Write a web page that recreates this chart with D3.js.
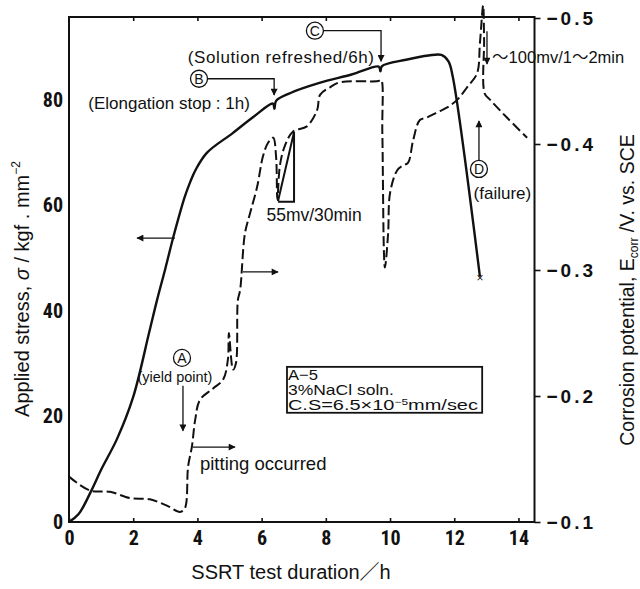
<!DOCTYPE html>
<html>
<head>
<meta charset="utf-8">
<script src="https://cdn.jsdelivr.net/npm/d3@7"></script>
<style>
  body { margin: 0; background: #fff; }
  svg { display: block; }
  .tick text { font-family: "Liberation Sans Narrow", "Roboto Condensed", "DejaVu Sans Condensed", sans-serif; font-weight: bold; font-size: 20px; fill: #111; }
  .right .tick text { font-family: "Liberation Sans", Arial, sans-serif; font-size: 19px; letter-spacing: 3px; }
  .ann { font-family: "Liberation Sans", Arial, "Noto Sans CJK JP", sans-serif; fill: #111; }
</style>
</head>
<body>
<svg id="chart" width="640" height="589"></svg>
<script>
// stress curve (solid, left axis) : hours, kgf/mm2
var stressT = [0, 0.3, 0.7, 1.0, 1.5, 2.0, 2.5, 2.74, 3.0, 3.25, 3.6, 3.78, 3.95, 4.3, 5.1, 5.75, 6.35, 6.4, 6.45, 6.9, 7.8, 8.8, 9.65, 9.7, 9.75, 10.5, 11.2, 11.6, 11.82, 11.95, 12.8];
var stressV = [0, 1.5, 6, 9.9, 15.8, 23.7, 36, 42, 48, 54, 61.5, 64.5, 66.8, 70, 73.7, 76.8, 79.3, 78.3, 79.8, 81.3, 83.2, 84.8, 86.3, 85.4, 86.4, 87.6, 88.4, 88.5, 87.3, 84.5, 46.5];

// corrosion potential (dashed, right axis) : hours, V vs SCE
var potT = [0, 0.65, 1.28, 1.9, 2.52, 3.05, 3.46, 3.61, 3.71, 3.83, 3.93, 4.08, 4.49, 4.8, 4.95, 4.98, 5.11, 5.2, 5.26, 5.33, 5.48, 5.64, 5.86, 6.04, 6.2, 6.36, 6.45, 6.49, 6.57, 6.73, 6.98, 7.41, 7.73, 7.82, 8.13, 8.44, 9.63, 9.72, 9.76, 9.84, 9.94, 10.0, 10.22, 10.4, 10.56, 10.72, 10.93, 11.15, 11.46, 11.78, 12.09, 12.4, 12.71, 12.8, 12.9, 12.93, 12.95, 13.12, 13.64, 14.27];
var potV = [-0.136, -0.125, -0.124, -0.119, -0.118, -0.113, -0.108, -0.111, -0.144, -0.160, -0.181, -0.197, -0.206, -0.213, -0.229, -0.250, -0.221, -0.226, -0.276, -0.284, -0.329, -0.345, -0.366, -0.390, -0.401, -0.405, -0.390, -0.356, -0.383, -0.399, -0.410, -0.414, -0.427, -0.439, -0.445, -0.449, -0.450, -0.451, -0.409, -0.302, -0.329, -0.361, -0.379, -0.383, -0.385, -0.403, -0.419, -0.421, -0.425, -0.429, -0.435, -0.445, -0.456, -0.480, -0.510, -0.483, -0.440, -0.435, -0.421, -0.405];

var xTicks = [0, 2, 4, 6, 8, 10, 12, 14];
var yLeftTicks = [0, 20, 40, 60, 80];
var yRightTicks = [-0.1, -0.2, -0.3, -0.4, -0.5];

var svg = d3.select("#chart");

var x = d3.scaleLinear().domain([0, 14.5]).range([69, 534.5]);
var yL = d3.scaleLinear().domain([0, 95.7]).range([522, 17]);
var yR = d3.scaleLinear().domain([-0.1, -0.5]).range([522, 18]);

// frame
svg.append("rect")
  .attr("x", x(0)).attr("y", yL(95.7))
  .attr("width", x(14.5) - x(0)).attr("height", yL(0) - yL(95.7))
  .attr("fill", "none").attr("stroke", "#111").attr("stroke-width", 2);

// axes
function styleAxis(g) {
  g.select(".domain").remove();
  g.selectAll(".tick line").attr("stroke", "#111").attr("stroke-width", 1.6);
}
svg.append("g").attr("transform", "translate(0,522)")
  .call(d3.axisBottom(x).tickValues(xTicks).tickSizeInner(-4).tickSizeOuter(0).tickPadding(9).tickFormat(d3.format("d")))
  .call(styleAxis);
svg.append("g").attr("transform", "translate(0,17)")
  .call(d3.axisTop(x).tickValues(xTicks.slice(1)).tickSizeInner(-4).tickSizeOuter(0).tickFormat(""))
  .call(styleAxis);
svg.append("g").attr("transform", "translate(69,0)")
  .call(d3.axisLeft(yL).tickValues(yLeftTicks).tickSizeInner(0).tickSizeOuter(0).tickPadding(6).tickFormat(d3.format("d")))
  .call(styleAxis);
svg.append("g").attr("class", "right").attr("transform", "translate(534.5,0)")
  .call(d3.axisRight(yR).tickValues(yRightTicks).tickSizeInner(6).tickSizeOuter(0).tickPadding(6).tickFormat(d3.format(".1f")))
  .call(styleAxis);

// axis titles
svg.append("text").attr("class", "ann")
  .attr("x", 291).attr("y", 579).attr("text-anchor", "middle").attr("font-size", 20)
  .text("SSRT test duration\uFF0Fh");

var lt = svg.append("text").attr("class", "ann")
  .attr("transform", "translate(29,289) rotate(-90)").attr("text-anchor", "middle").attr("font-size", 20);
lt.append("tspan").text("Applied stress, ");
lt.append("tspan").attr("font-style", "italic").text("\u03C3");
lt.append("tspan").text(" / kgf . mm");
lt.append("tspan").attr("font-size", 12).attr("dy", -9).text("\u22122");

var rt = svg.append("text").attr("class", "ann")
  .attr("transform", "translate(634,290) rotate(-90)").attr("text-anchor", "middle").attr("font-size", 19.5);
rt.append("tspan").text("Corrosion potential, E");
rt.append("tspan").attr("font-size", 12).attr("dy", 4).text("corr");
rt.append("tspan").attr("dy", -4).text(" /V. vs. SCE");

// curves
var lineS = d3.line().x(function(d, i) { return x(stressT[i]); }).y(function(d) { return yL(d); })
  .curve(d3.curveCatmullRom.alpha(0.5));
svg.append("path").datum(stressV).attr("d", lineS)
  .attr("fill", "none").attr("stroke", "#111").attr("stroke-width", 2.4);

var lineP = d3.line().x(function(d, i) { return x(potT[i]); }).y(function(d) { return yR(d); })
  .curve(d3.curveCatmullRom.alpha(0.5));
svg.append("path").datum(potV).attr("d", lineP)
  .attr("fill", "none").attr("stroke", "#111").attr("stroke-width", 2)
  .attr("stroke-dasharray", "10,4");

// failure mark
var last = stressV.length - 1;
svg.append("text").attr("class", "ann")
  .attr("x", x(stressT[last])).attr("y", yL(stressV[last]) + 5)
  .attr("text-anchor", "middle").attr("font-size", 12).text("\u00D7");

// arrows
svg.append("defs").append("marker").attr("id", "ah")
  .attr("viewBox", "0 0 10 10").attr("refX", 9).attr("refY", 5)
  .attr("markerWidth", 9).attr("markerHeight", 7).attr("markerUnits", "userSpaceOnUse")
  .attr("orient", "auto")
  .append("path").attr("d", "M0,0 L10,5 L0,10 z").attr("fill", "#111");

function arrow(pts, head) {
  var p = svg.append("path")
    .attr("d", d3.line().x(function(d) { return x(d[0]); }).y(function(d) { return yL(d[1]); })(pts))
    .attr("fill", "none").attr("stroke", "#111").attr("stroke-width", 1.3);
  if (head !== false) p.attr("marker-end", "url(#ah)");
}
function circ(t, s, letter) {
  svg.append("circle").attr("cx", x(t)).attr("cy", yL(s)).attr("r", 8.5)
    .attr("fill", "#fff").attr("stroke", "#111").attr("stroke-width", 1.3);
  svg.append("text").attr("class", "ann").attr("x", x(t)).attr("y", yL(s) + 5)
    .attr("text-anchor", "middle").attr("font-size", 14).text(letter);
}
function label(t, s, txt, size, anchor) {
  return svg.append("text").attr("class", "ann").attr("x", x(t)).attr("y", yL(s))
    .attr("font-size", size).attr("text-anchor", anchor || "start").text(txt);
}

// B : elongation stop
arrow([[4.3, 84.0], [6.39, 84.0], [6.39, 80.9]]);
circ(4.05, 84.0, "B");
label(0.6, 78.3, "(Elongation stop : 1h)", 17);

// C : solution refreshed
arrow([[7.92, 93.1], [9.72, 93.1], [9.72, 87.3]]);
circ(7.66, 93.1, "C");
label(3.7, 87.0, "(Solution refreshed/6h)", 17).attr("letter-spacing", 0.6);

// ~100 mV
arrow([[13.02, 93.0], [13.02, 86.8]]);
label(13.18, 87.0, "\uFF5E100mv/1\uFF5E2min", 16.5);

// D : failure
arrow([[12.77, 68.4], [12.77, 76.0]]);
circ(12.77, 66.9, "D");
label(13.5, 61.3, "(failure)", 17, "middle");

// 55 mV / 30 min
svg.append("path")
  .attr("d", d3.line().x(function(d) { return x(d[0]); }).y(function(d) { return yL(d[1]); })(
    [[6.51, 60.8], [7.01, 73.9], [7.01, 60.7], [6.51, 60.7]]))
  .attr("fill", "none").attr("stroke", "#111").attr("stroke-width", 2);
label(6.15, 57.0, "55mv/30min", 17.5);

// axis pointers
arrow([[3.3, 53.8], [2.12, 53.8]]);
arrow([[5.42, 47.4], [6.51, 47.4]]);

// A : yield point
circ(3.52, 31.1, "A");
label(3.3, 26.6, "(yield point)", 14.5, "middle");
arrow([[3.55, 25.8], [3.55, 17.3]]);

// pitting
arrow([[3.86, 14.2], [5.17, 14.2]]);
label(4.08, 9.9, "pitting occurred", 18.5);

// condition box
svg.append("rect").attr("x", x(6.79)).attr("y", yL(29.4))
  .attr("width", x(12.87) - x(6.79)).attr("height", yL(20.7) - yL(29.4))
  .attr("fill", "#fff").attr("stroke", "#111").attr("stroke-width", 1.8);
var boxLines = ["A\u22125", "3%NaCl soln."];
label(6.82, 27.0, boxLines[0], 15).attr("textLength", 30).attr("lengthAdjust", "spacingAndGlyphs");
label(6.82, 24.0, boxLines[1], 15).attr("textLength", 106).attr("lengthAdjust", "spacingAndGlyphs");
var cs = label(6.82, 21.3, "C.S=6.5\u00D710", 15)
  .attr("textLength", 190).attr("lengthAdjust", "spacingAndGlyphs");
cs.append("tspan").attr("font-size", 9).attr("dy", -5).text("\u22125");
cs.append("tspan").attr("dy", 5).text("mm/sec");
</script>
</body>
</html>
